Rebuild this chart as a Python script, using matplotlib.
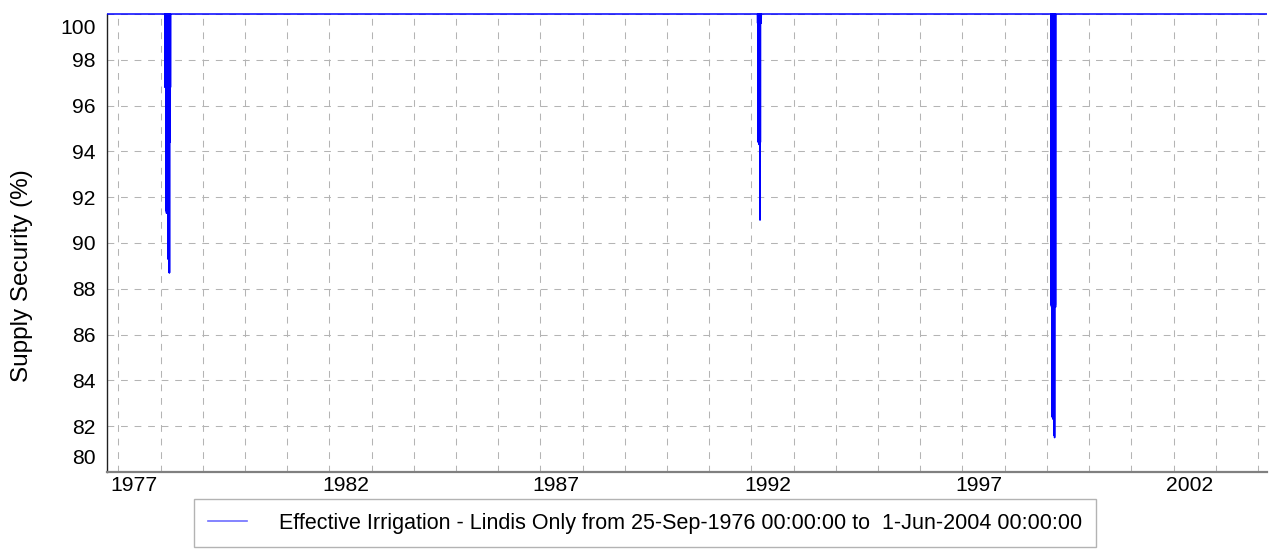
import numpy as np
import pandas as pd
import matplotlib
matplotlib.use("Agg")
import matplotlib.pyplot as plt
import matplotlib.dates as mdates
from matplotlib.lines import Line2D
from matplotlib.transforms import Bbox, TransformedBbox, ScaledTranslation

plt.rcParams['font.family'] = ['Liberation Sans', 'DejaVu Sans']

## data: daily supply security, 100 % except on the days listed below
start_date = '1976-09-25'
end_date = '2004-06-01'
base_value = 100.0

dip_dates = [
    # summer 1977/78
    '1978-02-10', '1978-02-13', '1978-02-16', '1978-02-19', '1978-02-22',
    '1978-02-25', '1978-02-28', '1978-03-03', '1978-03-06', '1978-03-09',
    '1978-03-11', '1978-03-14', '1978-03-17', '1978-03-20', '1978-03-23',
    '1978-03-26', '1978-03-28',
    # summer 1991/92
    '1992-02-24', '1992-03-01', '1992-03-04', '1992-03-08', '1992-03-11',
    '1992-03-14', '1992-03-16', '1992-03-19', '1992-03-26',
    # summer 1998/99
    '1999-02-05', '1999-02-08', '1999-02-11', '1999-02-14', '1999-02-16',
    '1999-02-19', '1999-02-22', '1999-02-25', '1999-02-28', '1999-03-03',
    '1999-03-06', '1999-03-09', '1999-03-12', '1999-03-15', '1999-03-17',
]
dip_values = [
    96.8, 96.8, 96.7, 91.4, 91.3,
    91.4, 91.4, 91.3, 89.3, 91.4,
    89.3, 89.3, 88.7, 88.7, 94.4,
    94.4, 96.8,
    99.6, 94.4, 94.4, 94.3, 94.4,
    94.4, 91.0, 94.4, 99.6,
    87.3, 87.3, 87.2, 87.3, 82.4,
    82.4, 82.4, 82.3, 82.4, 81.6,
    81.6, 81.5, 87.3, 87.3, 87.2,
]

year_labels = [1977, 1982, 1987, 1992, 1997, 2002]
y_ticks = [80, 82, 84, 86, 88, 90, 92, 94, 96, 98, 100]
legend_text = ('Effective Irrigation - Lindis Only from 25-Sep-1976 00:00:00 '
               'to  1-Jun-2004 00:00:00')

days = pd.date_range(start_date, end_date, freq='D')
security = pd.Series(base_value, index=days)
security[pd.to_datetime(dip_dates)] = dip_values

## figure
fig = plt.figure(figsize=(12.72, 5.52), dpi=100)
ax = fig.add_axes([107 / 1272, 1 - 472 / 552, 1160 / 1272, 458 / 552])

line, = ax.plot(security.index, security.values, color='#0000ff', lw=1.1, zorder=3)
line.set_clip_box(TransformedBbox(Bbox([[0, -0.02], [1, 1.02]]), ax.transAxes))

ax.set_xlim(pd.Timestamp(start_date), pd.Timestamp('2004-03-20'))
ax.set_ylim(80, 100)

# year gridlines on 1 Jan, labels sit a bit later in the year
ax.xaxis.set_minor_locator(mdates.YearLocator(1))
label_pos = [mdates.date2num(pd.Timestamp(y, 5, 20)) for y in year_labels]
ax.set_xticks(label_pos)
ax.set_xticklabels([str(y) for y in year_labels])
ax.set_yticks(y_ticks)
ax.set_yticklabels([str(v) for v in y_ticks])

grid_style = dict(color='#b4b4b4', lw=0.75, linestyle=(0, (6.5, 6.5)))
ax.grid(axis='x', which='minor', **grid_style)
ax.grid(axis='y', which='major', **grid_style)
ax.set_axisbelow(True)

ax.tick_params(axis='both', which='both', length=0, labelsize=15.2)
ax.tick_params(axis='x', pad=3)
ax.tick_params(axis='y', pad=8)

# keep the end labels inside the plot, like the source chart
ylabels = ax.get_yticklabels()
ylabels[0].set_va('bottom')
ylabels[0].set_transform(ylabels[0].get_transform()
                         + ScaledTranslation(0, 4 / 100, fig.dpi_scale_trans))
ylabels[-1].set_va('top')
ylabels[-1].set_transform(ylabels[-1].get_transform()
                          + ScaledTranslation(0, -5 / 100, fig.dpi_scale_trans))

for side in ['top', 'right']:
    ax.spines[side].set_visible(False)
ax.spines['left'].set_color('#202020')
ax.spines['left'].set_linewidth(1.0)
ax.spines['bottom'].set_color('#808080')
ax.spines['bottom'].set_linewidth(1.6)

fig.text(22 / 1272, 0.5, 'Supply Security (%)', rotation=90,
         ha='center', va='center', fontsize=17.5)

handle = Line2D([], [], color='#6e6eff', lw=1.2)
leg = fig.legend([handle], [legend_text], loc='center',
                 bbox_to_anchor=(645 / 1272, 1 - 523 / 552), fontsize=15.5,
                 frameon=True, fancybox=False, handlelength=1.8,
                 handletextpad=1.5, borderpad=0.65, borderaxespad=0)
leg.get_frame().set_edgecolor('#a0a0a0')
leg.get_frame().set_linewidth(1.0)

plt.savefig('out.png', dpi=100)
